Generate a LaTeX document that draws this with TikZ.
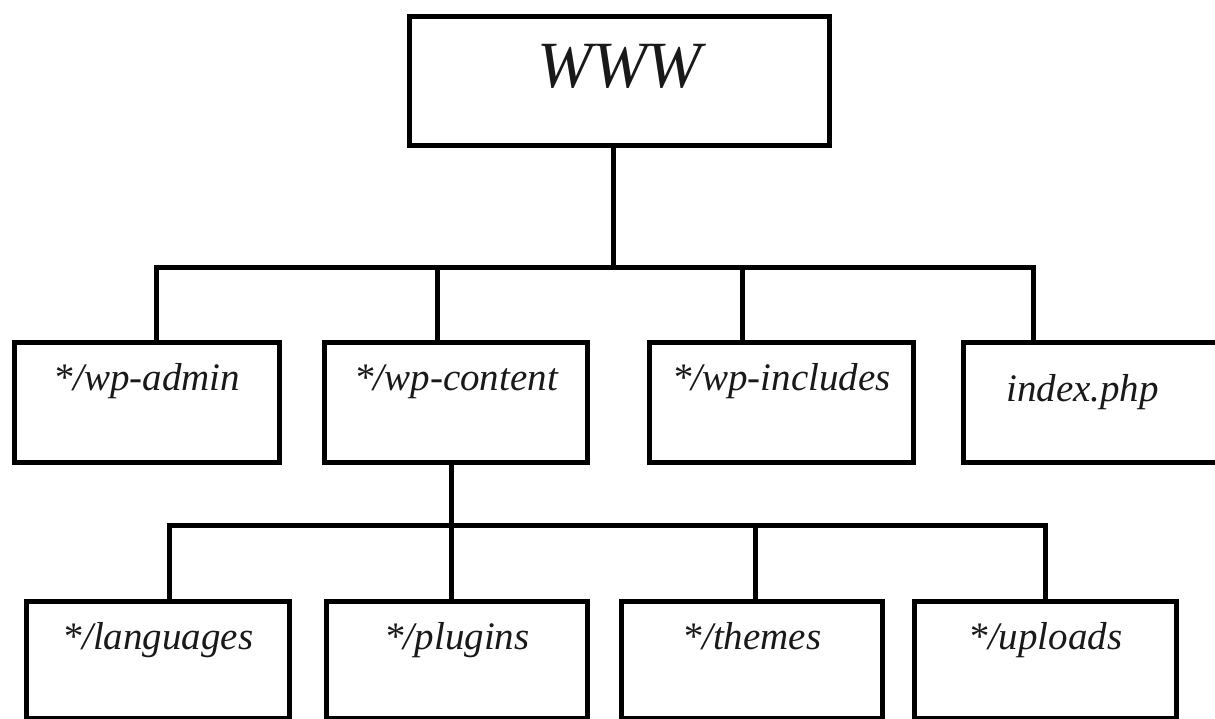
\documentclass[tikz,border=0pt]{standalone}
\usepackage{fontspec}
\setmainfont{Liberation Serif}[ItalicFont={Liberation Serif Italic}]
\begin{document}
\begin{tikzpicture}[x=0.5pt,y=-0.5pt,
  box/.style={draw, line width=2.5pt, inner sep=0pt, anchor=north west,
    text=black!90, font=\itshape\fontsize{19.5}{22}\selectfont},
  toprow/.style={box, minimum height=60pt, text height=24pt, text depth=36pt},
  botrow/.style={box, minimum height=58.5pt, text height=24pt, text depth=34.5pt},
  conn/.style={line width=2.5pt, line join=miter}]
\useasboundingbox (0,0) rectangle (1215,718);
\clip (0,0) rectangle (1215,718);
\fill[white] (0,0) rectangle (1215,718);

% nodes
\node[box, minimum width=210pt, minimum height=64.5pt, text height=35.5pt, text depth=29pt,
      font=\itshape\fontsize{33}{38}\selectfont] (www) at (407,14) {WWW};

\node[toprow, minimum width=132.5pt] (admin) at (12,340) {*/wp-admin};
\node[toprow, minimum width=131.5pt] (content) at (322,340) {*/wp-content};
\node[toprow, minimum width=132pt] (includes) at (647,340) {*/wp-includes};
\node[box, minimum width=135pt, minimum height=60pt, text height=29.5pt, text depth=30.5pt]
      (index) at (961,340) {index.php\hspace*{16pt}};

\node[botrow, minimum width=131.5pt] (languages) at (24,599) {*/languages};
\node[botrow, minimum width=130.5pt] (plugins) at (324,599) {*/plugins};
\node[botrow, minimum width=130.5pt] (themes) at (619,599) {*/themes};
\node[botrow, minimum width=131pt] (uploads) at (912,599) {*/uploads};

% first level bus
\coordinate (b1) at (613,267);
\coordinate (da) at (156,267);
\coordinate (dc) at (437,267);
\coordinate (di) at (742,267);
\coordinate (dx) at (1033,267);
\draw[conn] (www.south -| b1) -- (b1);
\draw[conn] (da |- admin.north) -- (da) -- (dx) -- (dx |- index.north);
\draw[conn] (dc) -- (dc |- content.north);
\draw[conn] (di) -- (di |- includes.north);

% second level bus
\coordinate (b2) at (451,525);
\coordinate (dl) at (169,525);
\coordinate (dp) at (451,525);
\coordinate (dt) at (755,525);
\coordinate (du) at (1045,525);
\draw[conn] (content.south -| b2) -- (b2);
\draw[conn] (dl |- languages.north) -- (dl) -- (du) -- (du |- uploads.north);
\draw[conn] (dp) -- (dp |- plugins.north);
\draw[conn] (dt) -- (dt |- themes.north);
\end{tikzpicture}
\end{document}
